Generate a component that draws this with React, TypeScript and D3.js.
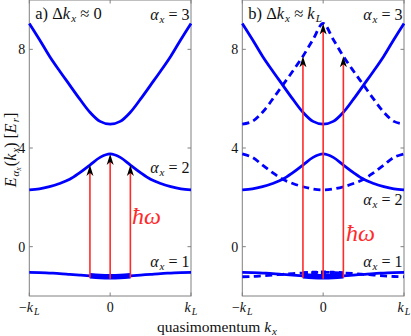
import React from "react";
import * as d3 from "d3";

const W = 411;
const H = 336;

// quasimomentum grid in units of k_L
const kGrid = [-1, -0.875, -0.75, -0.625, -0.5, -0.375, -0.25, -0.125, 0, 0.125, 0.25, 0.375, 0.5, 0.625, 0.75, 0.875, 1];

// band energies in E_r
const band1 = [-1.04, -1.05, -1.07, -1.09, -1.12, -1.15, -1.18, -1.21, -1.22, -1.21, -1.18, -1.15, -1.12, -1.09, -1.07, -1.05, -1.04];
const band2 = [2.3, 2.34, 2.43, 2.56, 2.73, 3.0, 3.31, 3.62, 3.76, 3.62, 3.31, 3.0, 2.73, 2.56, 2.43, 2.34, 2.3];
const band3 = [9.05, 8.4, 7.72, 7.12, 6.55, 5.98, 5.45, 5.08, 4.97, 5.08, 5.45, 5.98, 6.55, 7.12, 7.72, 8.4, 9.05];

// dashed (displaced) bands in panel b
const band1Dash = [-1.22, -1.21, -1.18, -1.15, -1.12, -1.09, -1.07, -1.05, -1.04, -1.05, -1.07, -1.09, -1.12, -1.15, -1.18, -1.21, -1.22];
const band2Dash = [3.76, 3.62, 3.31, 3.0, 2.73, 2.56, 2.43, 2.34, 2.3, 2.34, 2.43, 2.56, 2.73, 3.0, 3.31, 3.62, 3.76];
const band3Dash = [4.97, 5.08, 5.45, 5.98, 6.55, 7.12, 7.72, 8.4, 9.05, 8.4, 7.72, 7.12, 6.55, 5.98, 5.45, 5.08, 4.97];

const pumpK = [-0.25, 0, 0.25];
const yTicks = [0, 4, 8];
const xTicks = [-1, 0, 1];
const bandNames = ["1", "2", "3"];

const BLUE = "#0000ff";
const RED = "#ff2a2a";
const AXIS = "#808080";
const INK = "#111";
const FONT = "Liberation Serif, DejaVu Serif, serif";

const y = d3.scaleLinear().domain([-2, 10]).range([296, 0]);

// subscript: baseline-shift keeps the following text on the main baseline
const Sub = ({ children, size = 10, shift = -3 }: { children: any; size?: number; shift?: number }) => (
  <tspan dx={1} baselineShift={shift} fontSize={size} fontStyle="italic">{children}</tspan>
);

function Panel(props: {
  x0: number;
  x1: number;
  dashed: boolean;
  title: React.ReactNode;
  labelY: number[];
  hwPos: number[];
}) {
  const { x0, x1, dashed } = props;
  const x = d3.scaleLinear().domain([-1, 1]).range([x0, x1]);
  const line = d3
    .line<number>()
    .x((_, i) => x(kGrid[i]))
    .y(d => y(d))
    .curve(d3.curveCatmullRom.alpha(0.5));
  const thickIdx = kGrid.map((k, i) => i).filter(i => Math.abs(kGrid[i]) <= 0.25);
  const thickLine = (arr: number[]) =>
    d3
      .line<number>()
      .x(i => x(kGrid[i]))
      .y(i => y(arr[i]))
      .curve(d3.curveCatmullRom)(thickIdx);
  const target = dashed ? band3Dash : band2;

  return (
    <g>
      {/* frame */}
      <rect x={x0} y={y(10)} width={x1 - x0} height={y(-2) - y(10)} fill="none" stroke={AXIS} strokeWidth={1} />
      {yTicks.map(t => (
        <g key={"y" + t}>
          <line x1={x0} x2={x0 + 3.5} y1={y(t)} y2={y(t)} stroke={AXIS} />
          <line x1={x1} x2={x1 - 3.5} y1={y(t)} y2={y(t)} stroke={AXIS} />
          <text x={x0 - 4} y={y(t) + 5} textAnchor="end" fontSize={14} fill={INK}>{t}</text>
        </g>
      ))}
      {xTicks.map(t => (
        <g key={"x" + t}>
          <line x1={x(t)} x2={x(t)} y1={y(-2)} y2={y(-2) - 3.5} stroke={AXIS} />
          <line x1={x(t)} x2={x(t)} y1={y(10)} y2={y(10) + 3.5} stroke={AXIS} />
          <text x={x(t)} y={312} textAnchor="middle" fontSize={14} fill={INK}>
            {t === 0 ? "0" : (
              <>
                {t < 0 ? "\u2212" : ""}
                <tspan fontStyle="italic">k</tspan>
                <Sub size={10} shift={-2.5}>L</Sub>
              </>
            )}
          </text>
        </g>
      ))}

      {/* bands */}
      {dashed &&
        [band1Dash, band2Dash, band3Dash].map((b, i) => (
          <path key={"d" + i} d={line(b) || ""} fill="none" stroke={BLUE} strokeWidth={2.8} strokeDasharray="7 4.5" />
        ))}
      {[band1, band2, band3].map((b, i) => (
        <path key={"s" + i} d={line(b) || ""} fill="none" stroke={BLUE} strokeWidth={2.8} />
      ))}
      <path d={thickLine(band1) || ""} fill="none" stroke={BLUE} strokeWidth={5.5} />
      {dashed && (
        <path d={thickLine(band1Dash) || ""} fill="none" stroke={BLUE} strokeWidth={3.5} strokeDasharray="5 4" />
      )}

      {/* pump arrows */}
      {pumpK.map(k => {
        const i = kGrid.indexOf(k);
        const xb = x(k);
        const yb = y(band1[i]) + 2;
        const yt = y(target[i]);
        return (
          <g key={"a" + k}>
            <line x1={xb} x2={xb} y1={yb} y2={yt + 7} stroke={RED} strokeWidth={1.6} />
            <path d={`M${xb},${yt} L${xb - 3.5},${yt + 11} L${xb},${yt + 8} L${xb + 3.5},${yt + 11} Z`} fill="#000" />
          </g>
        );
      })}

      {/* labels */}
      <text x={x0 + 6} y={19} fontSize={16.5} fill={INK}>{props.title}</text>
      {bandNames.map((n, i) => (
        <text key={"l" + n} x={x1 - 1.5} y={props.labelY[i]} textAnchor="end" fontSize={16} fill={INK}>
          <tspan fontStyle="italic">α</tspan>
          <Sub size={11}>x</Sub>
          <tspan> = {n}</tspan>
        </text>
      ))}
      <text x={props.hwPos[0]} y={props.hwPos[1]} fontSize={24} fontStyle="italic" fill={RED}>ħω</text>
    </g>
  );
}

export default function App() {
  return (
    <svg width={W} height={H} style={{ position: "absolute", left: 0, top: 0, background: "#fff" }} fontFamily={FONT}>
      <Panel
        x0={29.3}
        x1={191}
        dashed={false}
        title={
          <>
            <tspan>a) Δ</tspan>
            <tspan fontStyle="italic">k</tspan>
            <Sub size={11}>x</Sub>
            <tspan> ≈ 0</tspan>
          </>
        }
        labelY={[267, 173, 20]}
        hwPos={[132, 224]}
      />
      <Panel
        x0={242.3}
        x1={404}
        dashed={true}
        title={
          <>
            <tspan>b) Δ</tspan>
            <tspan fontStyle="italic">k</tspan>
            <Sub size={11}>x</Sub>
            <tspan> ≈ </tspan>
            <tspan fontStyle="italic">k</tspan>
            <Sub size={11}>L</Sub>
          </>
        }
        labelY={[267, 205, 20]}
        hwPos={[346, 241]}
      />
      <text transform="translate(16,150) rotate(-90)" textAnchor="middle" fontSize={16} fill={INK}>
        <tspan fontStyle="italic">E</tspan>
        <tspan dx={1} baselineShift={-3} fontSize={11} fontStyle="italic">α<tspan baselineShift={-2} fontSize={8}>x</tspan></tspan>
        <tspan dx={1}>(</tspan>
        <tspan fontStyle="italic">k</tspan>
        <Sub size={11}>x</Sub>
        <tspan>) [</tspan>
        <tspan fontStyle="italic">E</tspan>
        <Sub size={11}>r</Sub>
        <tspan>]</tspan>
      </text>
      <text x={217} y={332} textAnchor="middle" fontSize={15.5} fill={INK}>
        <tspan>quasimomentum </tspan>
        <tspan fontStyle="italic">k</tspan>
        <Sub size={11} shift={-2.5}>x</Sub>
      </text>
    </svg>
  );
}
